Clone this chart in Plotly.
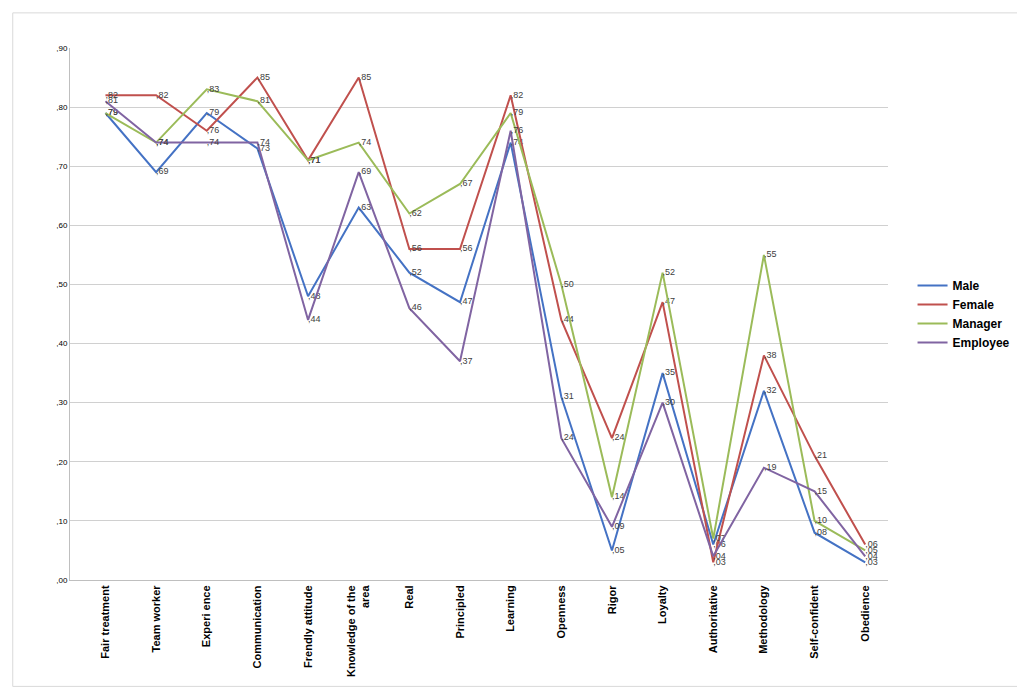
import plotly.graph_objects as go

categories = ["Fair treatment", "Team worker", "Experi ence", "Communication", "Frendly attitude",
              "Knowledge of the<br>area", "Real", "Principled", "Learning", "Openness", "Rigor",
              "Loyalty", "Authoritative", "Methodology", "Self-confident", "Obedience"]

male = [.79, .69, .79, .73, .48, .63, .52, .47, .74, .31, .05, .35, .06, .32, .08, .03]
female = [.82, .82, .76, .85, .71, .85, .56, .56, .82, .44, .24, .47, .03, .38, .21, .06]
manager = [.79, .74, .83, .81, .71, .74, .62, .67, .79, .50, .14, .52, .07, .55, .10, .05]
employee = [.81, .74, .74, .74, .44, .69, .46, .37, .76, .24, .09, .30, .04, .19, .15, .04]

series = [("Male", male, "#4472C4"), ("Female", female, "#C0504D"),
          ("Manager", manager, "#9BBB59"), ("Employee", employee, "#8064A2")]

def fmt(v):
    return "," + f"{v:.2f}".split(".")[1]

fig = go.Figure()
for name, vals, col in series:
    fig.add_trace(go.Scatter(
        x=categories, y=vals, name=f"<b>{name}</b>", mode="lines+text",
        line=dict(color=col, width=2),
        text=[fmt(v) for v in vals], textposition="middle right",
        textfont=dict(size=9, color="#404040"),
    ))

ticks = [i / 10 for i in range(10)]
fig.update_layout(
    width=1025, height=691, paper_bgcolor="white", plot_bgcolor="white",
    margin=dict(l=62, r=145, t=40, b=119),
    font=dict(family="Liberation Sans", color="#000"),
    legend=dict(x=1.03, y=0.5, yanchor="middle", font=dict(size=12, color="#000"),
                bgcolor="rgba(0,0,0,0)"),
    showlegend=True,
    shapes=[dict(type="rect", xref="paper", yref="paper", x0=-0.07, x1=1.174, y0=-0.2, y1=1.066,
                 line=dict(color="#d9d9d9", width=1))],
)
fig.update_yaxes(range=[0, 0.9], tickvals=ticks, ticktext=[fmt(t) for t in ticks],
                 gridcolor="#d0d0d0", showline=True, linecolor="#bfbfbf",
                 tickfont=dict(size=8), zeroline=False, automargin=False)
fig.update_xaxes(tickangle=-90, tickfont=dict(size=11, family="Liberation Sans"),
                 showline=True, linecolor="#bfbfbf", range=[-0.7, 15.45], automargin=False)
fig.update_xaxes(ticktext=[f"<b>{c}</b>" for c in categories], tickvals=categories)
fig.write_html("out.html")
